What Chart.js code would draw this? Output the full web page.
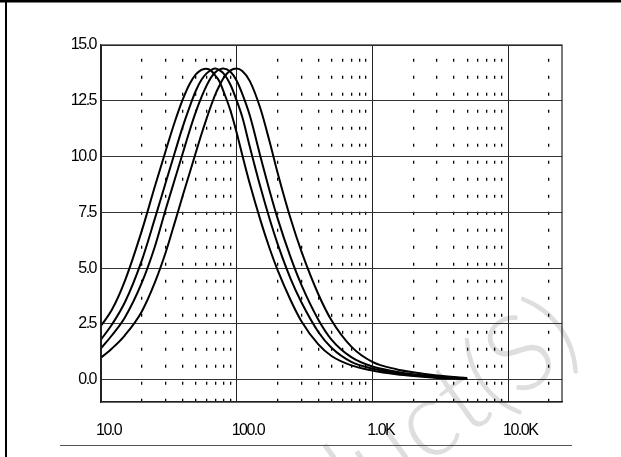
<!DOCTYPE html>
<html>
<head>
<meta charset="utf-8">
<script src="https://cdn.jsdelivr.net/npm/chart.js@4.4.1/dist/chart.umd.min.js"></script>
<style>
  html, body { margin: 0; padding: 0; background: #fff; }
  #wrap { width: 621px; height: 457px; position: relative; }
</style>
</head>
<body>
<div id="wrap"><canvas id="grafico"></canvas></div>
<script>
// frequencies (Hz) shared by the four curves
const freqs = [10, 12, 15, 20, 25, 30, 35, 40, 45, 50, 55, 60, 65, 70, 75, 80, 90, 100, 110, 125, 150, 175, 200, 250, 300, 400, 500, 700, 1000, 1500, 2000, 3000, 5000];

// curve values, lowest peak frequency first
const curveA = [2.42, 3.12, 4.43, 6.68, 8.68, 10.26, 11.56, 12.55, 13.25, 13.68, 13.88, 13.94, 13.84, 13.61, 13.34, 12.92, 12.06, 11.07, 10.07, 8.78, 7.13, 5.88, 4.92, 3.56, 2.62, 1.58, 1.06, 0.64, 0.41, 0.24, 0.16, 0.08, 0.03];
const curveB = [1.8, 2.46, 3.47, 5.35, 7.24, 8.84, 10.18, 11.33, 12.23, 12.95, 13.44, 13.73, 13.89, 13.95, 13.86, 13.73, 13.22, 12.51, 11.77, 10.44, 8.61, 7.2, 6.1, 4.52, 3.47, 2.14, 1.43, 0.8, 0.5, 0.3, 0.2, 0.11, 0.04];
const curveC = [1.4, 1.98, 2.79, 4.35, 5.98, 7.64, 8.98, 10.14, 11.16, 12.0, 12.66, 13.18, 13.56, 13.79, 13.91, 13.95, 13.8, 13.4, 12.81, 11.84, 9.98, 8.46, 7.24, 5.48, 4.25, 2.69, 1.8, 1.01, 0.59, 0.36, 0.24, 0.14, 0.05];
const curveD = [0.98, 1.39, 1.99, 3.06, 4.37, 5.71, 7.05, 8.24, 9.26, 10.18, 11.0, 11.7, 12.31, 12.82, 13.2, 13.52, 13.86, 13.95, 13.83, 13.38, 12.13, 10.66, 9.29, 7.21, 5.75, 3.83, 2.66, 1.48, 0.8, 0.47, 0.33, 0.19, 0.08];

// axis ticks
const xTicks = [10, 20, 30, 40, 50, 60, 70, 80, 90,
  100, 200, 300, 400, 500, 600, 700, 800, 900,
  1000, 2000, 3000, 4000, 5000, 6000, 7000, 8000, 9000,
  10000, 20000];
const xMajor = [10, 100, 1000, 10000];
const xMajorLabels = ['10.0', '100.0', '1.0K', '10.0K'];
const yTicks = [0, 2.5, 5, 7.5, 10, 12.5, 15];

const tickFont = { family: "'Liberation Sans', Arial, sans-serif", size: 16 };

function serie(valores) {
  return {
    data: freqs.map((f, i) => ({ x: f, y: valores[i] })),
    borderColor: '#000',
    borderWidth: 2,
    pointRadius: 0,
    cubicInterpolationMode: 'monotone',
    fill: false
  };
}

// page decorations: outer frame, watermark, rule below the labels
const marco = {
  id: 'marco',
  beforeDraw(chart) {
    const c = chart.ctx;
    c.save();
    c.fillStyle = '#fff';
    c.fillRect(0, 0, chart.width, chart.height);
    c.translate(586, 350);
    c.rotate(-36 * Math.PI / 180);
    c.font = "300 106px Lato, 'Open Sans', sans-serif";
    c.fillStyle = '#dedede';
    c.textAlign = 'right';
    c.textBaseline = 'alphabetic';
    c.fillText('product(S)', 0, 0);
    c.restore();
    // narrow look of the tick labels
    c.letterSpacing = '-1.5px';
  },
  afterDraw(chart) {
    const c = chart.ctx;
    const a = chart.chartArea;
    c.save();
    c.strokeStyle = '#222';
    c.lineWidth = 1.2;
    c.strokeRect(a.left, a.top, a.right - a.left, a.bottom - a.top);
    c.fillStyle = '#000';
    c.fillRect(0, 0, chart.width, 2.5);
    c.fillRect(5, 0, 2, chart.height);
    c.strokeStyle = '#555';
    c.lineWidth = 1;
    c.beginPath();
    c.moveTo(60, 445.5);
    c.lineTo(572, 445.5);
    c.stroke();
    c.restore();
  }
};

new Chart(document.getElementById('grafico'), {
  type: 'line',
  data: { datasets: [serie(curveA), serie(curveB), serie(curveC), serie(curveD)] },
  options: {
    responsive: true,
    maintainAspectRatio: false,
    animation: false,
    layout: { padding: { top: 45, right: 59, left: 0, bottom: 0 } },
    plugins: { legend: { display: false }, tooltip: { enabled: false } },
    scales: {
      x: {
        type: 'logarithmic',
        min: 10,
        max: 25000,
        afterBuildTicks: (s) => { s.ticks = xTicks.map(v => ({ value: v, major: xMajor.includes(v) })); },
        afterFit: (s) => { s.height = 55; },
        ticks: {
          autoSkip: false,
          maxRotation: 0,
          align: 'start',
          labelOffset: -5,
          padding: 19,
          color: '#000',
          font: tickFont,
          callback: (v) => { const i = xMajor.indexOf(v); return i >= 0 ? xMajorLabels[i] : ''; }
        },
        grid: {
          drawTicks: false,
          color: (ctx) => (ctx.tick && xMajor.includes(ctx.tick.value)) ? '#222' : '#000',
          lineWidth: (ctx) => (ctx.tick && xMajor.includes(ctx.tick.value)) ? 1 : 1.3
        },
        border: {
          color: '#222',
          width: 1.2,
          dash: (ctx) => (ctx.tick && !xMajor.includes(ctx.tick.value)) ? [3, 14] : [],
          dashOffset: 3.2
        }
      },
      y: {
        min: -1,
        max: 15,
        afterBuildTicks: (s) => { s.ticks = yTicks.map(v => ({ value: v })); },
        afterFit: (s) => { s.width = 101; },
        ticks: {
          padding: 5,
          color: '#000',
          font: tickFont,
          callback: (v) => Number(v).toFixed(1)
        },
        grid: { drawTicks: false, color: '#333', lineWidth: 1 },
        border: { color: '#222', width: 1.2 }
      }
    }
  },
  plugins: [marco]
});
</script>
</body>
</html>
